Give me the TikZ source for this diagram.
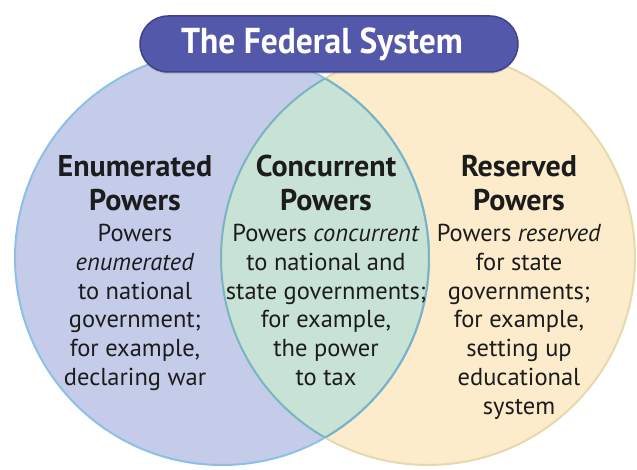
\documentclass[tikz,border=0pt]{standalone}
\usepackage{fontspec}
\setmainfont{PT Sans}
\newfontfamily\titlefont{PT Sans}[FakeStretch=0.93]
\usetikzlibrary{shadows}
\definecolor{leftfill}{RGB}{196,204,234}
\definecolor{leftline}{RGB}{140,192,228}
\definecolor{rightfill}{RGB}{252,236,204}
\definecolor{rightline}{RGB}{230,218,172}
\definecolor{lensfill}{RGB}{200,226,214}
\definecolor{lensline}{RGB}{120,180,200}
\definecolor{banner}{RGB}{84,88,170}
\definecolor{bannerline}{RGB}{62,66,140}
\definecolor{txt}{RGB}{28,28,28}
\tikzset{
  head/.style={font=\fontsize{30}{34}\selectfont\bfseries, text=txt, align=center, anchor=north, inner sep=0pt},
  body/.style={font=\fontsize{24.5}{28.8}\selectfont, text=txt, align=center, anchor=north, inner sep=0pt},
}
\begin{document}
\begin{tikzpicture}[x=1pt,y=-1pt]
\useasboundingbox (0,0) rectangle (637,470);
\fill[white] (0,0) rectangle (637,470);
% circles
\coordinate (cl) at (222,258);
\coordinate (cr) at (428,258);
\fill[leftfill] (cl) circle[radius=207];
\fill[rightfill] (cr) circle[radius=207];
\begin{scope}
  \clip (cl) circle[radius=207];
  \fill[lensfill] (cr) circle[radius=207];
\end{scope}
\draw[leftline, line width=2pt] (cl) circle[radius=207];
\draw[rightline, line width=2pt] (cr) circle[radius=207];
\begin{scope}
  \clip (cl) circle[radius=207];
  \draw[lensline, line width=2pt] (cr) circle[radius=207];
\end{scope}
\begin{scope}
  \clip (cr) circle[radius=207];
  \draw[lensline, line width=2pt] (cl) circle[radius=207];
\end{scope}
% banner
\node[fill=banner, draw=bannerline, line width=1.5pt, rounded corners=28pt, minimum width=378pt, minimum height=56pt,
      drop shadow={shadow xshift=0pt, shadow yshift=-2pt, opacity=0.25}] (bannerbox) at (329,44) {};
\node[text=white, font=\titlefont\fontsize{36}{40}\selectfont\bfseries, inner sep=0pt] (title) at (322,44) {The Federal System};
% texts
\node[head] (h1) at (135,155) {Enumerated\\Powers};
\node[head] (h2) at (326,155) {Concurrent\\Powers};
\node[head] (h3) at (519,155) {Reserved\\Powers};
\node[body] (b1) at (135,224) {Powers\\\textit{enumerated}\\to national\\government;\\for example,\\declaring war};
\node[body] (b2) at (326,224) {Powers \textit{concurrent}\\to national and\\state governments;\\for example,\\the power\\to tax};
\node[body] (b3) at (519,224) {Powers \textit{reserved}\\for state\\governments;\\for example,\\setting up\\educational\\system};
\end{tikzpicture}
\end{document}
